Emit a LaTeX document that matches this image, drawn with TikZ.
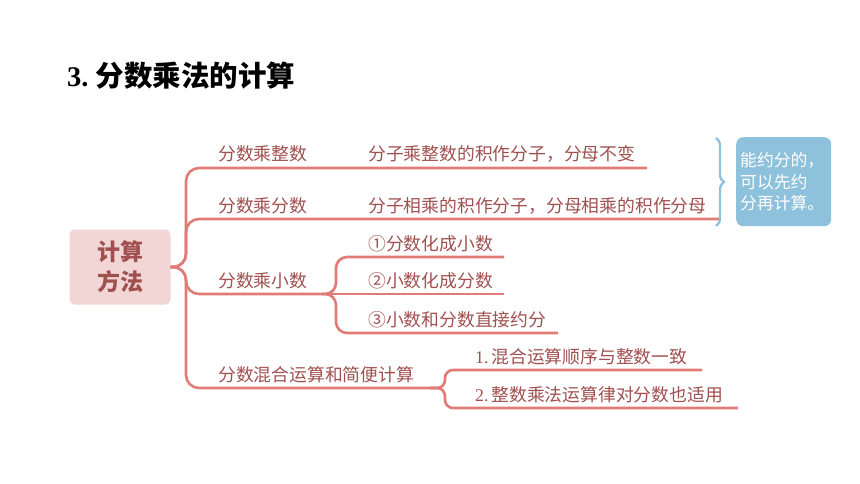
\documentclass[tikz,border=0pt]{standalone}
\usepackage{fontspec}
\setmainfont{Liberation Serif}
\newfontfamily\cjk{Noto Sans CJK SC}
\usetikzlibrary{decorations.pathreplacing}
\definecolor{linered}{HTML}{E07B77}
\definecolor{txtred}{HTML}{A0504F}
\definecolor{rootpink}{HTML}{F2D5D5}
\definecolor{noteblue}{HTML}{8EC1DB}
\begin{document}
\begin{tikzpicture}[x=1pt,y=-1pt,
    branch/.style={draw=linered, line width=2.6pt, rounded corners=13pt},
    lbl/.style={font=\cjk\fontsize{17.8}{17.8}\selectfont, text=txtred, anchor=base west, inner sep=0pt}]
    \useasboundingbox (0,0) rectangle (860,484);

    \node[anchor=west, inner sep=0pt, font=\fontsize{28.5}{28.5}\selectfont\bfseries] (title) at (67,76) {3.\ {\cjk 分数乘法的计算}};

    % root
    \node[fill=rootpink, rounded corners=5pt, minimum width=101pt, minimum height=75pt, align=center,
        text=txtred, font=\cjk\bfseries\fontsize{23}{30}\selectfont] (root) at (120,267) {计算\\方法};

    % main branches
    \coordinate (e1) at (647,168);
    \coordinate (e2) at (719,219);
    \coordinate (h3) at (322,294);
    \coordinate (h4) at (430,388);
    \draw[branch] (root.east) -| (186,168) -- (e1);
    \draw[branch] (root.east) -| (186,219) -- (e2);
    \draw[branch] (root.east) -| (186,294) -- (h3);
    \draw[branch] (root.east) -| (186,388) -- (h4);

    \node[lbl] (b1) at (218,161) {分数乘整数};
    \node[lbl] (d1) at (368,161) {分子乘整数的积作分子，分母不变};
    \node[lbl] (b2) at (218,212) {分数乘分数};
    \node[lbl] (d2) at (368,212) {分子相乘的积作分子，分母相乘的积作分母};
    \node[lbl] (b3) at (218,287) {分数乘小数};
    \node[lbl] (b4) at (218,381) {分数混合运算和简便计算};

    % decimals
    \coordinate (s1) at (504,257);
    \coordinate (s2) at (504,294);
    \coordinate (s3) at (558,333);
    \draw[branch, rounded corners=11pt] (h3) -| (336,257) -- (s1);
    \draw[branch] (h3) -- (s2);
    \draw[branch, rounded corners=11pt] (h3) -| (336,333) -- (s3);
    \node[lbl] (c1) at (368,250) {①分数化成小数};
    \node[lbl] (c2) at (368,287) {②小数化成分数};
    \node[lbl] (c3) at (368,326) {③小数和分数直接约分};

    % mixed operations
    \coordinate (t1) at (702,370);
    \coordinate (t2) at (738,408);
    \draw[branch, rounded corners=8pt] (h4) -| (445,370) -- (t1);
    \draw[branch, rounded corners=8pt] (h4) -| (445,408) -- (t2);
    \node[lbl] (m1) at (475,363) {{\rmfamily 1.\,}混合运算顺序与整数一致};
    \node[lbl] (m2) at (475,401) {{\rmfamily 2.\,}整数乘法运算律对分数也适用};

    % note
    \coordinate (bt) at (716,138);
    \coordinate (bb) at (716,226);
    \draw[decorate, decoration={brace, amplitude=8pt}, draw=noteblue, line width=2.3pt] (bt) -- (bb);
    \node[fill=noteblue, rounded corners=7pt, anchor=north west, minimum width=95pt, minimum height=89pt,
        text width=87pt, inner xsep=4pt, align=left, text=white,
        font=\cjk\fontsize{16.8}{21.5}\selectfont] (note) at (736,137) {能约分的，\\可以先约\\分再计算。};
\end{tikzpicture}
\end{document}
